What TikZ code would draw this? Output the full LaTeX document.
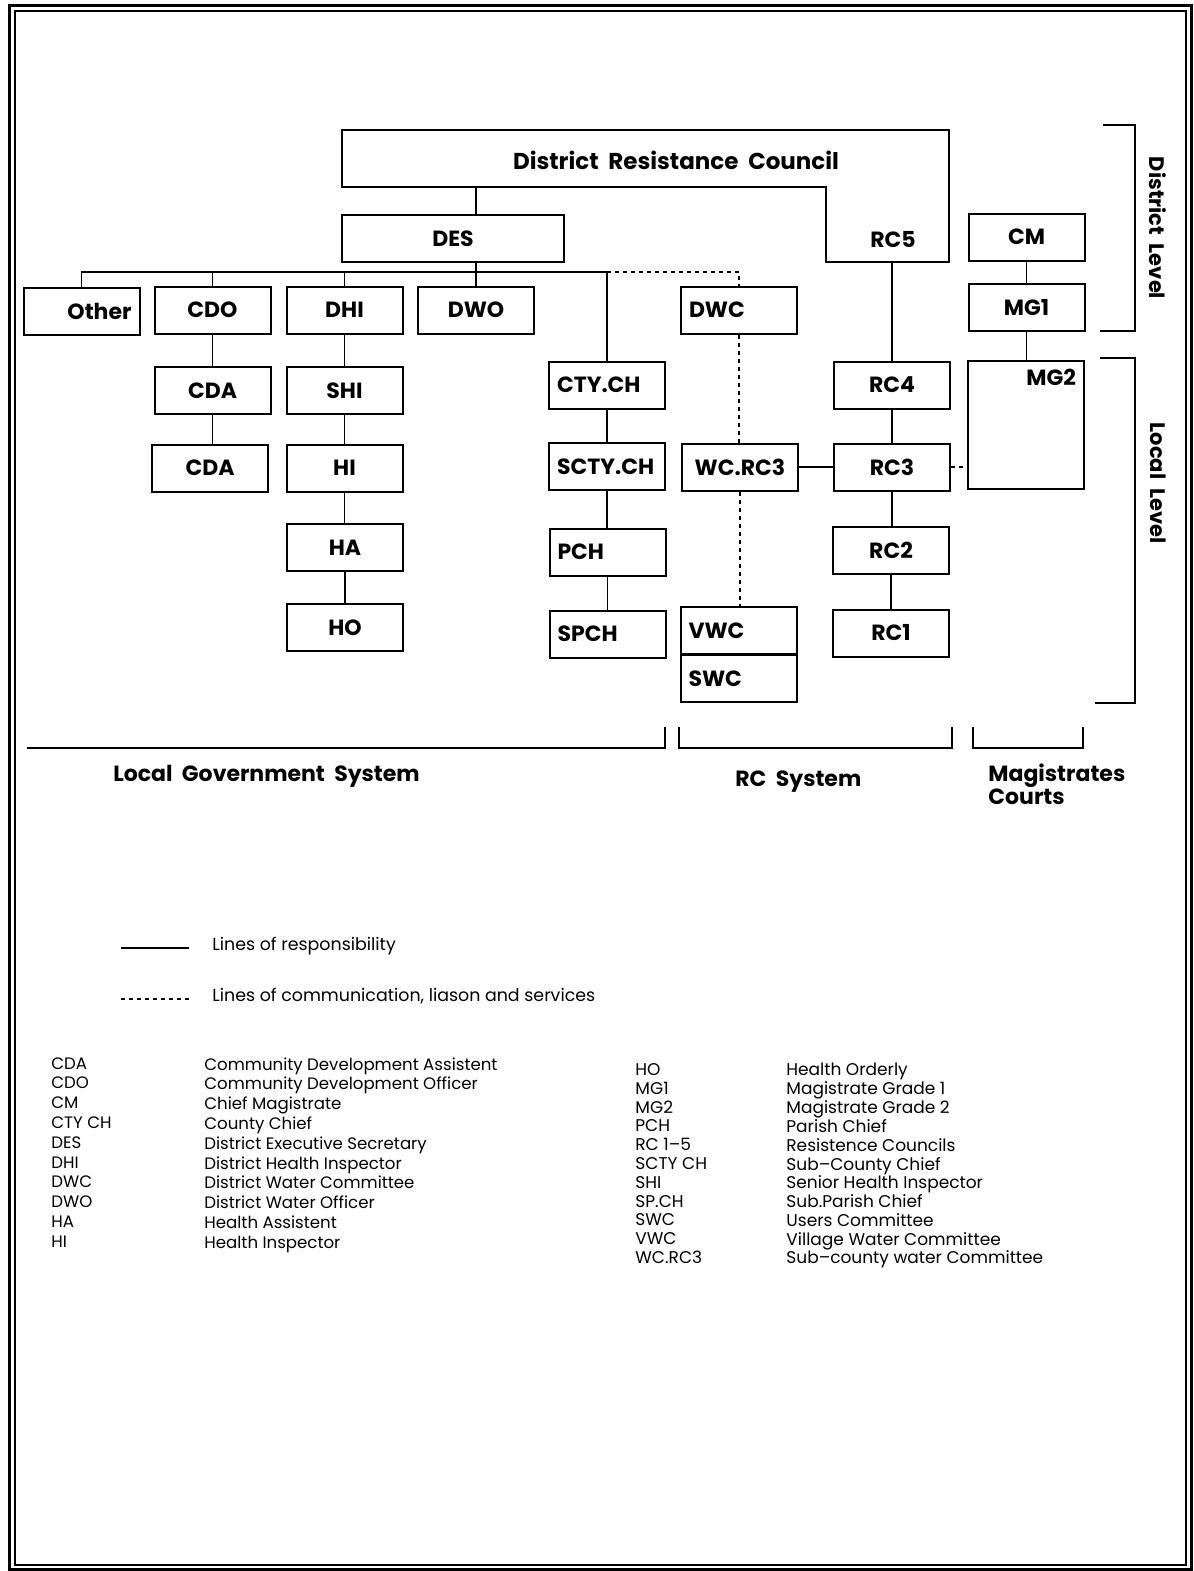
\documentclass[tikz,border=0pt]{standalone}
\usepackage{fontspec}
\setmainfont{Poppins}
\usetikzlibrary{positioning,calc}

\begin{document}
\begin{tikzpicture}[
  x=0.5pt,y=-0.5pt,
  font=\fontsize{8.5}{10}\selectfont,
  box/.style={draw,line width=1pt,minimum width=58pt,minimum height=23.5pt,inner sep=4pt,
    font=\fontsize{11}{12}\selectfont\bfseries},
  lbox/.style={box,text width=50pt,align=left},
  rbox/.style={box,text width=50pt,align=right},
  boxtxt/.style={inner sep=0pt,font=\fontsize{11}{12}\selectfont\bfseries},
  resp/.style={line width=0.7pt},
  comm/.style={line width=0.8pt,dash pattern=on 2pt off 2pt},
  brk/.style={line width=1pt},
  sys/.style={inner sep=0pt,font=\fontsize{11}{11.5}\selectfont\bfseries},
  lvl/.style={inner sep=0pt,rotate=-90,font=\fontsize{10.5}{11}\selectfont\bfseries},
  leg/.style={anchor=west,inner sep=0pt,font=\fontsize{8.7}{10}\selectfont},
  abbr/.style={anchor=north west,align=left,inner sep=0pt,font=\fontsize{8.3}{9.9}\selectfont},
  abbrr/.style={abbr,font=\fontsize{8.5}{9.4}\selectfont}
]
\useasboundingbox (0,0) rectangle (1194,1571);

% frame
\draw[line width=1.5pt] (9,5) rectangle (1191,1569);
\draw[line width=1pt] (15,11) rectangle (1186,1565);

% ================= district resistance council =================
\coordinate (drcA) at (342,130);
\coordinate (drcB) at (949,130);
\coordinate (drcC) at (949,262);
\coordinate (drcD) at (826,262);
\coordinate (drcE) at (826,187);
\coordinate (drcF) at (342,187);
\draw[brk] (drcA) -- (drcB) -- (drcC) -- (drcD) -- (drcE) -- (drcF) -- cycle;
\node[boxtxt,font=\fontsize{11.5}{12}\selectfont\bfseries] (drc) at (676,160)
  {District\ \ Resistance\ \ Council};
\node[boxtxt] (rc5) at (893,240) {RC5};

% ================= local government system =================
\node[box,minimum width=111pt] (des) at (453,238.5) {DES};
\node[rbox] (other) at (81.5,311.5) {Other};
\node[box] (cdo) at (212.5,310) {CDO};
\node[box] (dhi) at (344.5,310) {DHI};
\node[box] (dwo) at (476,310) {DWO};
\node[box] (cda1) at (212.5,390.5) {CDA};
\node[box] (cda2) at (210,468) {CDA};
\node[box] (shi) at (344.5,390.5) {SHI};
\node[box] (hi) at (344.5,468) {HI};
\node[box] (ha) at (345,547.5) {HA};
\node[box] (ho) at (345,627.5) {HO};
\node[lbox] (ctych) at (607,385) {CTY.CH};
\node[lbox] (sctych) at (607,466.5) {SCTY.CH};
\node[lbox] (pch) at (607.5,552) {PCH};
\node[lbox] (spch) at (607.5,634) {SPCH};

% ================= RC system =================
\node[lbox] (dwc) at (739,310) {DWC};
\node[box] (wcrc3) at (740,467) {WC.RC3};
\node[lbox] (vwc) at (738.5,630.5) {VWC};
\node[lbox] (swc) at (738.5,678.5) {SWC};
\node[box] (rc4) at (892,385) {RC4};
\node[box] (rc3) at (892,467) {RC3};
\node[box] (rc2) at (891,550) {RC2};
\node[box] (rc1) at (891,633) {RC1};

% ================= magistrates courts =================
\node[box] (cm) at (1026.5,237) {CM};
\node[box] (mg1) at (1026.5,307.5) {MG1};
\node[rbox,minimum width=56pt,text depth=48pt] (mg2) at (1026,425) {MG2};

% connectors
\coordinate (bus) at (0,272);
\draw[resp] (drcF -| dwo) -- (des.north -| dwo);
\draw[resp] (des.south -| dwo) -- (dwo.north);
\draw[resp] (other.north) -- (other.north |- bus) -- (ctych.north |- bus) -- (ctych.north);
\draw[resp] (cdo.north) -- (cdo.north |- bus);
\draw[resp] (dhi.north) -- (dhi.north |- bus);
\draw[comm] (ctych.north |- bus) -- (dwc.north |- bus) -- (dwc.north);

\draw[resp] (cdo.south) -- (cdo.south |- cda1.north);
\draw[resp] (cda1.south) -- (cda1.south |- cda2.north);
\draw[resp] (dhi.south) -- (dhi.south |- shi.north);
\draw[resp] (shi.south) -- (shi.south |- hi.north);
\draw[resp] (hi.south) -- (hi.south |- ha.north);
\draw[resp] (ha.south) -- (ha.south |- ho.north);
\draw[resp] (ctych.south) -- (ctych.south |- sctych.north);
\draw[resp] (sctych.south) -- (sctych.south |- pch.north);
\draw[resp] (pch.south) -- (pch.south |- spch.north);

\draw[comm] (dwc.south) -- (dwc.south |- wcrc3.north);
\draw[comm] (wcrc3.south) -- (wcrc3.south |- vwc.north);
\draw[resp] (wcrc3.east) -- (wcrc3.east -| rc3.west);
\draw[resp] (rc4.north |- drcC) -- (rc4.north);
\draw[resp] (rc4.south) -- (rc4.south |- rc3.north);
\draw[resp] (rc3.south) -- (rc3.south |- rc2.north);
\draw[resp] (rc2.south) -- (rc2.south |- rc1.north);
\draw[comm] (rc3.east) -- (rc3.east -| mg2.west);

\draw[resp] (cm.south) -- (cm.south |- mg1.north);
\draw[resp] (mg1.south) -- (mg1.south |- mg2.north);

% level brackets
\draw[brk] (1103,125) -- (1135,125) -- (1135,331) -- (1100,331);
\draw[brk] (1100,358) -- (1135,358) -- (1135,703) -- (1095,703);
\node[lvl] (distlvl) at (1158,228) {District\ \ Level};
\node[lvl] (loclvl) at (1158,483) {Local\ \ Level};

% system brackets
\draw[brk] (27,748) -- (665,748) -- (665,727);
\draw[brk] (679,727) -- (679,748) -- (952,748) -- (952,727);
\draw[brk] (973,727) -- (973,748) -- (1083,748) -- (1083,727);
\node[sys,anchor=west] (lgsys) at (113,776) {Local\ \ Government\ \ System};
\node[sys,anchor=west] (rcsys) at (735,782) {RC\ \ System};
\node[sys,anchor=north west,align=left] (mgsys) at (988,763) {Magistrates\\Courts};

% legend
\draw[resp] (121,948) -- (189,948);
\draw[comm] (121,999) -- (189,999);
\node[leg] (lresp) at (212,946) {Lines\ of\ responsibility};
\node[leg] (lcomm) at (212,996) {Lines\ of\ communication,\ liason\ and\ services};

\node[abbr] (abbrA) at (51,1057) {CDA\\CDO\\CM\\CTY CH\\DES\\DHI\\DWC\\DWO\\HA\\HI};
\node[abbr] (descA) at (204,1057) {Community Development Assistent\\Community Development Officer\\
  Chief Magistrate\\County Chief\\District Executive Secretary\\District Health Inspector\\
  District Water Committee\\District Water Officer\\Health Assistent\\Health Inspector};
\node[abbrr] (abbrB) at (635,1063) {HO\\MG1\\MG2\\PCH\\RC 1--5\\SCTY CH\\SHI\\SP.CH\\SWC\\VWC\\WC.RC3};
\node[abbrr] (descB) at (786,1063) {Health Orderly\\Magistrate Grade 1\\Magistrate Grade 2\\
  Parish Chief\\Resistence Councils\\Sub--County Chief\\Senior Health Inspector\\
  Sub.Parish Chief\\Users Committee\\Village Water Committee\\Sub--county water Committee};

\end{tikzpicture}
\end{document}
